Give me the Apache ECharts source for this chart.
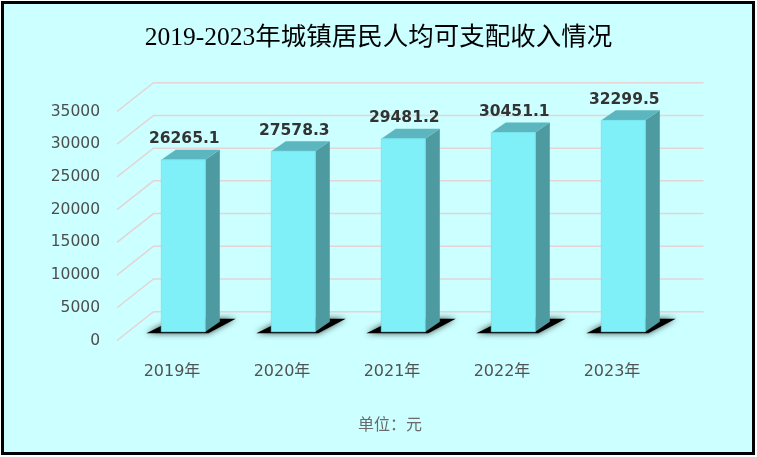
<!DOCTYPE html>
<html>
<head>
<meta charset="utf-8">
<script src="https://cdn.jsdelivr.net/npm/echarts@6/dist/echarts.min.js"></script>
<style>
  html, body { margin: 0; padding: 0; background: #fff; }
  #main { width: 757px; height: 457px; }
</style>
</head>
<body>
<div id="main"></div>
<script>
// 年份
var years = ['2019年', '2020年', '2021年', '2022年', '2023年'];
// 城镇居民人均可支配收入（元）
var incomes = [26265.1, 27578.3, 29481.2, 30451.1, 32299.5];
// 纵轴刻度
var yTicks = [0, 5000, 10000, 15000, 20000, 25000, 30000, 35000];

var chart = echarts.init(document.getElementById('main'));

// 纵深方向（背墙相对前面的偏移）
var DEPTH = [36.5, -28.8];

// 背墙网格线 + 左侧斜线
function renderWall(params, api) {
  var cs = params.coordSys;
  var y = api.coord([0, api.value(1)])[1];
  return {
    type: 'polyline',
    shape: {
      points: [
        [cs.x, y],
        [cs.x + DEPTH[0], y + DEPTH[1]],
        [cs.x + cs.width + DEPTH[0], y + DEPTH[1]]
      ]
    },
    style: { stroke: '#E6D3D3', lineWidth: 1.5, fill: null },
    silent: true
  };
}

// 立体柱子
function renderBar(params, api) {
  var i = api.value(0);
  var v = api.value(1);
  var base = api.coord([i, 0]);
  var top = api.coord([i, v]);
  var band = api.size([1, 0])[0];
  var w = band * 0.4;
  var f0 = [11.3, -8.8];   // 前面位置
  var sd = [14.5, -10];    // 柱子厚度
  var xl = base[0] - w / 2 + f0[0];
  var xr = xl + w;
  var yb = base[1] + f0[1];
  var yt = top[1] + f0[1];
  return {
    type: 'group',
    children: [
      {
        type: 'polygon',
        shape: {
          points: [
            [xl - 15, yb + 1.5], [xr + 3, yb + 1.5],
            [xr + sd[0] + 16, yb + sd[1] - 3], [xl + sd[0], yb + sd[1] - 3]
          ]
        },
        style: { fill: '#000', shadowBlur: 6, shadowColor: 'rgba(0,0,0,0.7)' }
      },
      {
        type: 'polygon',
        shape: { points: [[xr, yb], [xr + sd[0], yb + sd[1]], [xr + sd[0], yt + sd[1]], [xr, yt]] },
        style: { fill: '#4D9BA1' }
      },
      {
        type: 'polygon',
        shape: { points: [[xl, yt], [xr, yt], [xr + sd[0], yt + sd[1]], [xl + sd[0], yt + sd[1]]] },
        style: { fill: '#5BB6BF' }
      },
      {
        type: 'rect',
        shape: { x: xl, y: yt, width: w, height: yb - yt },
        style: { fill: '#7FEFF8', stroke: '#74E2EC', lineWidth: 0.8 }
      },
      {
        type: 'text',
        style: {
          text: String(v),
          x: (xl + xr) / 2 + 1,
          y: yt + sd[1] - 10.5,
          align: 'center',
          verticalAlign: 'middle',
          fontSize: 15.5,
          fontWeight: 'bold',
          fontFamily: 'DejaVu Sans',
          fill: '#333333'
        }
      }
    ]
  };
}

var barData = incomes.map(function (v, i) { return [i, v]; });
var wallData = yTicks.map(function (v) { return [0, v]; });

chart.setOption({
  animation: false,
  graphic: [{
    type: 'rect',
    z: -10,
    silent: true,
    shape: { x: 2.5, y: 2.5, width: 751, height: 451 },
    style: { fill: '#CCFFFF', stroke: '#000', lineWidth: 3 }
  }],
  title: [{
    text: '2019-2023年城镇居民人均可支配收入情况',
    left: 'center',
    top: 21,
    textStyle: {
      fontSize: 25.5,
      fontWeight: 'normal',
      color: '#000',
      fontFamily: '"Liberation Serif", "Noto Sans CJK SC"'
    }
  }, {
    text: '单位：元',
    left: 353,
    top: 411,
    textStyle: {
      fontSize: 16,
      fontWeight: 'normal',
      color: '#6A6A6A',
      fontFamily: '"Noto Sans CJK SC"'
    }
  }],
  grid: { left: 117, right: 90, top: 111.5, bottom: 116.5 },
  xAxis: {
    type: 'category',
    data: years,
    axisLine: { show: false },
    axisTick: { show: false },
    axisLabel: {
      margin: 23,
      fontSize: 16,
      color: '#525252',
      fontFamily: '"DejaVu Sans", "Noto Sans CJK SC"'
    }
  },
  yAxis: {
    type: 'value',
    min: 0,
    max: 35000,
    interval: 5000,
    axisLine: { show: false },
    axisTick: { show: false },
    splitLine: { show: false },
    axisLabel: {
      margin: 17,
      fontSize: 15.5,
      color: '#4D4D4D',
      fontFamily: 'DejaVu Sans',
      formatter: function (v) { return String(v); }
    }
  },
  series: [{
    type: 'custom',
    renderItem: renderWall,
    data: wallData,
    encode: { x: 0, y: 1 },
    z: 1,
    silent: true
  }, {
    type: 'custom',
    renderItem: renderBar,
    data: barData,
    encode: { x: 0, y: 1 },
    z: 2
  }]
});
</script>
</body>
</html>
